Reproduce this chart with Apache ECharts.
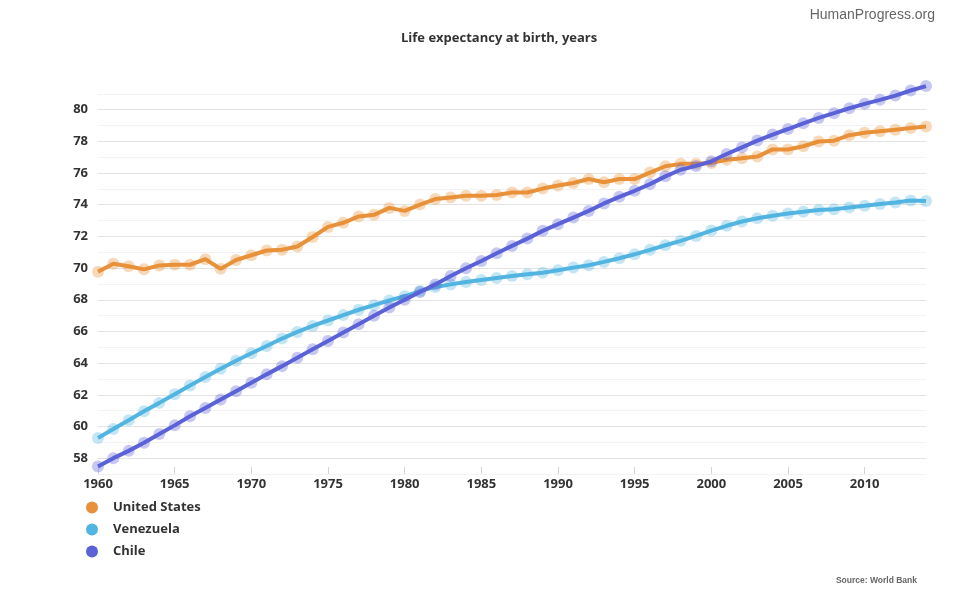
<!DOCTYPE html>
<html>
<head>
<meta charset="utf-8">
<title>Life expectancy at birth, years</title>
<script src="https://cdn.jsdelivr.net/npm/echarts@6/dist/echarts.min.js"></script>
<style>
  html, body { margin: 0; padding: 0; background: #fff; }
  #main { width: 970px; height: 600px; }
</style>
</head>
<body>
<div id="main"></div>
<script>
  var years = []
  for (var y = 1960; y <= 2014; y++) years.push(String(y))

  var seriesNames = ['United States', 'Venezuela', 'Chile']
  var seriesColors = ['#e8913a', '#52b4e0', '#5b62d6']

  var unitedStates = [
    69.77, 70.27, 70.12, 69.92, 70.17, 70.21, 70.21, 70.56, 69.95, 70.51,
    70.81, 71.11, 71.16, 71.36, 71.96, 72.60, 72.86, 73.26, 73.36, 73.80,
    73.61, 74.01, 74.36, 74.46, 74.56, 74.56, 74.61, 74.77, 74.77, 75.02,
    75.21, 75.37, 75.62, 75.42, 75.62, 75.62, 76.03, 76.43, 76.58, 76.58,
    76.64, 76.84, 76.94, 77.04, 77.49, 77.49, 77.69, 77.99, 78.04, 78.39,
    78.54, 78.64, 78.74, 78.84, 78.94
  ]
  var venezuela = [
    59.27, 59.84, 60.39, 60.96, 61.49, 62.04, 62.59, 63.12, 63.64, 64.15,
    64.62, 65.08, 65.55, 65.97, 66.35, 66.69, 67.03, 67.37, 67.66, 67.96,
    68.22, 68.55, 68.81, 68.97, 69.12, 69.25, 69.38, 69.50, 69.61, 69.71,
    69.86, 70.03, 70.18, 70.39, 70.62, 70.87, 71.15, 71.44, 71.72, 72.03,
    72.37, 72.67, 72.94, 73.15, 73.30, 73.45, 73.55, 73.66, 73.72, 73.83,
    73.93, 74.04, 74.14, 74.26, 74.23
  ]
  var chile = [
    57.47, 58.00, 58.46, 58.97, 59.52, 60.07, 60.64, 61.17, 61.70, 62.23,
    62.76, 63.29, 63.81, 64.34, 64.87, 65.40, 65.93, 66.46, 66.99, 67.51,
    68.00, 68.49, 68.97, 69.50, 69.99, 70.45, 70.94, 71.40, 71.86, 72.35,
    72.77, 73.19, 73.61, 74.08, 74.50, 74.88, 75.30, 75.79, 76.21, 76.45,
    76.74, 77.20, 77.62, 78.05, 78.43, 78.78, 79.14, 79.48, 79.78, 80.09,
    80.37, 80.62, 80.89, 81.21, 81.49
  ]
  var seriesValues = [unitedStates, venezuela, chile]

  var yTickLabels = ['58', '60', '62', '64', '66', '68', '70', '72', '74', '76', '78', '80']

  // grid lines: even values darker, odd lighter, none at the very top
  function getGridColors () {
    var colors = []
    for (var v = 57; v <= 82; v++) {
      if (v === 82) colors.push('rgba(0,0,0,0)')
      else colors.push(v % 2 === 0 ? '#e2e2e2' : '#f3f3f3')
    }
    return colors
  }

  function getSeries () {
    return seriesNames.map(function (name, i) {
      return {
        name: name,
        type: 'line',
        data: seriesValues[i],
        color: seriesColors[i],
        symbol: 'circle',
        symbolSize: 12,
        showAllSymbol: true,
        lineStyle: { width: 4, color: seriesColors[i] },
        itemStyle: { color: seriesColors[i], opacity: 0.35 },
        z: 2 + i
      }
    })
  }

  function getOptions () {
    return {
      animation: false,
      backgroundColor: '#fff',
      title: {
        text: 'Life expectancy at birth, years',
        left: 401,
        top: 32,
        padding: 0,
        textStyle: {
          fontFamily: 'Open Sans',
          fontSize: 13,
          fontWeight: 'bold',
          color: '#333'
        }
      },
      graphic: [{
        type: 'text',
        right: 35,
        top: 8,
        style: {
          text: 'HumanProgress.org',
          fontFamily: 'Liberation Sans',
          fontSize: 14,
          fill: '#666'
        }
      }, {
        type: 'text',
        right: 53,
        top: 576,
        style: {
          text: 'Source: World Bank',
          fontFamily: 'Liberation Sans',
          fontSize: 8.5,
          fontWeight: 'bold',
          fill: '#666'
        }
      }],
      legend: {
        orient: 'vertical',
        left: 86,
        top: 501,
        padding: 0,
        itemWidth: 12,
        itemHeight: 12,
        itemGap: 9,
        icon: 'circle',
        itemStyle: { opacity: 1 },
        data: seriesNames,
        textStyle: {
          fontFamily: 'Open Sans',
          fontSize: 13,
          fontWeight: 'bold',
          color: '#333',
          padding: [0, 0, 0, 10]
        }
      },
      grid: {
        left: 98,
        right: 44,
        top: 78,
        bottom: 126
      },
      xAxis: {
        type: 'category',
        boundaryGap: false,
        data: years,
        axisLine: { show: false },
        axisTick: {
          show: true,
          inside: true,
          length: 7,
          interval: 4,
          lineStyle: { color: '#ccd6eb' }
        },
        axisLabel: {
          interval: 4,
          margin: 4,
          fontFamily: 'Open Sans',
          fontSize: 13,
          fontWeight: 'bold',
          color: '#333'
        },
        splitLine: { show: false }
      },
      yAxis: {
        type: 'value',
        min: 57,
        max: 82,
        interval: 1,
        axisLine: { show: false },
        axisTick: { show: false },
        axisLabel: {
          margin: 10,
          fontFamily: 'Open Sans',
          fontSize: 13,
          fontWeight: 'bold',
          color: '#333',
          formatter: function (val) {
            var s = String(val)
            return yTickLabels.indexOf(s) >= 0 ? s : ''
          }
        },
        splitLine: {
          lineStyle: {
            color: getGridColors(),
            width: 1
          }
        }
      },
      series: getSeries()
    }
  }

  var chart = echarts.init(document.getElementById('main'))
  chart.setOption(getOptions())
  window.addEventListener('resize', function () {
    chart.resize()
  })
</script>
</body>
</html>
